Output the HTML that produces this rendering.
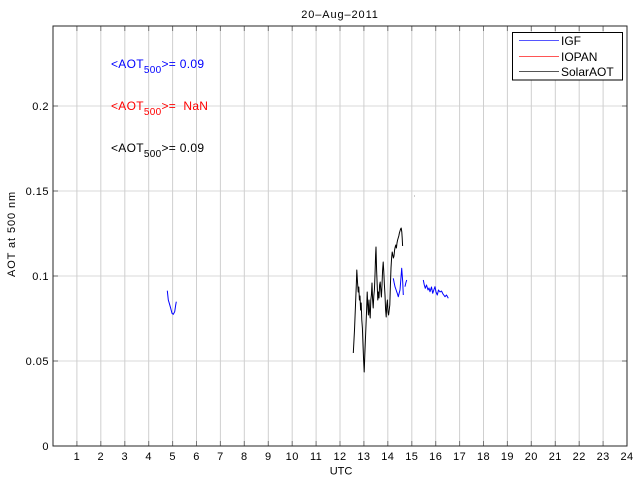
<!DOCTYPE html>
<html><head><meta charset="utf-8"><style>
html,body{margin:0;padding:0;background:#fff;}
svg{display:block;}
text{font-family:"Liberation Sans",Arial,sans-serif;}
</style></head><body>
<svg width="640" height="480" viewBox="0 0 640 480" xmlns="http://www.w3.org/2000/svg">
<rect x="0" y="0" width="640" height="480" fill="#fff"/>
<rect x="53" y="26" width="574" height="420" fill="#fff"/>
<!-- horizontal grid -->
<g stroke="#e6e6e6" stroke-width="1.5">
<line x1="53" y1="361" x2="627" y2="361"/>
<line x1="53" y1="276" x2="627" y2="276"/>
<line x1="53" y1="191" x2="627" y2="191"/>
<line x1="53" y1="106" x2="627" y2="106"/>
</g>
<!-- vertical grid -->
<g stroke="#cfcfcf" stroke-width="1">
<line x1="76.9" y1="26" x2="76.9" y2="446"/>
<line x1="100.8" y1="26" x2="100.8" y2="446"/>
<line x1="124.8" y1="26" x2="124.8" y2="446"/>
<line x1="148.7" y1="26" x2="148.7" y2="446"/>
<line x1="172.6" y1="26" x2="172.6" y2="446"/>
<line x1="196.5" y1="26" x2="196.5" y2="446"/>
<line x1="220.4" y1="26" x2="220.4" y2="446"/>
<line x1="244.3" y1="26" x2="244.3" y2="446"/>
<line x1="268.3" y1="26" x2="268.3" y2="446"/>
<line x1="292.2" y1="26" x2="292.2" y2="446"/>
<line x1="316.1" y1="26" x2="316.1" y2="446"/>
<line x1="340" y1="26" x2="340" y2="446"/>
<line x1="363.9" y1="26" x2="363.9" y2="446"/>
<line x1="387.8" y1="26" x2="387.8" y2="446"/>
<line x1="411.8" y1="26" x2="411.8" y2="446"/>
<line x1="435.7" y1="26" x2="435.7" y2="446"/>
<line x1="459.6" y1="26" x2="459.6" y2="446"/>
<line x1="483.5" y1="26" x2="483.5" y2="446"/>
<line x1="507.4" y1="26" x2="507.4" y2="446"/>
<line x1="531.3" y1="26" x2="531.3" y2="446"/>
<line x1="555.3" y1="26" x2="555.3" y2="446"/>
<line x1="579.2" y1="26" x2="579.2" y2="446"/>
<line x1="603.1" y1="26" x2="603.1" y2="446"/>
</g>
<!-- ticks -->
<g stroke="#777" stroke-width="1">
<path d="M76.9 446v-5M100.8 446v-5M124.8 446v-5M148.7 446v-5M172.6 446v-5M196.5 446v-5M220.4 446v-5M244.3 446v-5M268.3 446v-5M292.2 446v-5M316.1 446v-5M340 446v-5M363.9 446v-5M387.8 446v-5M411.8 446v-5M435.7 446v-5M459.6 446v-5M483.5 446v-5M507.4 446v-5M531.3 446v-5M555.3 446v-5M579.2 446v-5M603.1 446v-5"/>
<path d="M76.9 26v5M100.8 26v5M124.8 26v5M148.7 26v5M172.6 26v5M196.5 26v5M220.4 26v5M244.3 26v5M268.3 26v5M292.2 26v5M316.1 26v5M340 26v5M363.9 26v5M387.8 26v5M411.8 26v5M435.7 26v5M459.6 26v5M483.5 26v5M507.4 26v5M531.3 26v5M555.3 26v5M579.2 26v5M603.1 26v5"/>
<path d="M53 361h5M53 276h5M53 191h5M53 106h5M627 361h-5M627 276h-5M627 191h-5M627 106h-5"/>
</g>
<!-- axes box -->
<rect x="53" y="26" width="574" height="420" fill="none" stroke="#262626" stroke-width="1"/>

<!-- data: SolarAOT black -->
<polyline fill="none" stroke="#000" stroke-width="1" stroke-linejoin="round" points="353.3,353 354.5,330 355.5,305 356.3,285 356.8,270 357.5,282 358.2,292 358.8,287 359.4,300 360,296 360.6,310 361.2,303 361.8,320 362.4,328 363,345 363.6,360 364.2,372 364.8,355 365.4,340 366,325 366.6,310 367.2,292 367.8,305 368.4,315 369,300 369.6,312 370.2,318 370.8,300 371.4,295 372,283 372.6,300 373.2,308 373.8,296 374.4,290 375,275 375.6,255 376,247 376.6,270 377.2,285 377.8,300 378.4,292 379,298 379.6,285 380.2,282 380.8,290 381.4,297 382,285 382.6,270 383.2,262 383.8,272 384.4,285 385,295 385.6,310 386.2,317 386.8,305 387.4,300 388,312 388.6,315 389.2,310 389.8,305 390.4,285 391,268 391.6,258 392.2,252 392.8,255 393.4,258 394,256 394.6,250 395.2,247 395.8,245 396.4,248 397,243 397.6,240 398.2,238 398.8,236 399.4,233 400,231 400.6,229 401.2,228 401.8,232 402.2,238 402.6,246"/>
<rect x="414" y="195.5" width="1" height="1" fill="#999"/>

<!-- data: IGF blue -->
<g fill="none" stroke="#0000ff" stroke-width="1" stroke-linejoin="round">
<polyline points="167.3,290.7 168.3,300 169.3,303.3 170.7,308.3 172,313.3 173.3,314.3 174.7,311.7 175.7,305 176.3,301.7"/>
<polyline points="393.3,278.3 394.2,283 395,286.7 395.8,289 396.7,291.7 397.5,294 398.3,296.7 399.2,293 400,290 400.8,280 401.7,268.3 402.2,275 402.7,281.7 403.3,295"/>
<polyline points="405,286.7 405.8,283 406.7,280"/>
<polyline points="423.3,280 424.3,285 425.3,288.3 426.5,285 428,290 429,288 430,291.7 431.5,287 432.7,293.3 433.8,290 435,286.7 436,292 437.3,295 438.5,290 440,292 441.5,291 443,294 445,296.7 446.5,295 448.3,298.3"/>
</g>

<!-- tick labels -->
<g font-size="11" fill="#000" text-anchor="middle" letter-spacing="0.4">
<text x="76.9" y="460">1</text>
<text x="100.8" y="460">2</text>
<text x="124.8" y="460">3</text>
<text x="148.7" y="460">4</text>
<text x="172.6" y="460">5</text>
<text x="196.5" y="460">6</text>
<text x="220.4" y="460">7</text>
<text x="244.3" y="460">8</text>
<text x="268.3" y="460">9</text>
<text x="292.2" y="460">10</text>
<text x="316.1" y="460">11</text>
<text x="340" y="460">12</text>
<text x="363.9" y="460">13</text>
<text x="387.8" y="460">14</text>
<text x="411.8" y="460">15</text>
<text x="435.7" y="460">16</text>
<text x="459.6" y="460">17</text>
<text x="483.5" y="460">18</text>
<text x="507.4" y="460">19</text>
<text x="531.3" y="460">20</text>
<text x="555.3" y="460">21</text>
<text x="579.2" y="460">22</text>
<text x="603.1" y="460">23</text>
<text x="627" y="460">24</text>
</g>
<g font-size="11" fill="#000" text-anchor="end" letter-spacing="0.5">
<text x="49" y="450">0</text>
<text x="49" y="365">0.05</text>
<text x="49" y="280">0.1</text>
<text x="49" y="195">0.15</text>
<text x="49" y="110">0.2</text>
</g>

<!-- title & axis labels -->
<text x="340" y="18" font-size="11" text-anchor="middle" letter-spacing="0.9">20–Aug–2011</text>
<text x="341" y="474.5" font-size="11" text-anchor="middle">UTC</text>
<text transform="translate(15,234) rotate(-90)" font-size="11" text-anchor="middle" letter-spacing="0.9">AOT at 500 nm</text>

<!-- annotations -->
<text x="111" y="68" font-size="12" fill="#0000ff" letter-spacing="0.3">&lt;AOT<tspan font-size="10" dy="5">500</tspan><tspan dy="-5">&gt;= 0.09</tspan></text>
<text x="111" y="110" font-size="12" fill="#ff0000" letter-spacing="0.3">&lt;AOT<tspan font-size="10" dy="5">500</tspan><tspan dy="-5">&gt;=&#160; NaN</tspan></text>
<text x="111" y="152" font-size="12" fill="#000" letter-spacing="0.3">&lt;AOT<tspan font-size="10" dy="5">500</tspan><tspan dy="-5">&gt;= 0.09</tspan></text>

<!-- legend -->
<rect x="512.5" y="32.5" width="110" height="47.5" fill="#fff" stroke="#000" stroke-width="1"/>
<line x1="519" y1="40.5" x2="559" y2="40.5" stroke="#5555ff" stroke-width="1"/>
<line x1="519" y1="56.5" x2="559" y2="56.5" stroke="#ff5555" stroke-width="1"/>
<line x1="519" y1="71.5" x2="559" y2="71.5" stroke="#555" stroke-width="1"/>
<g font-size="12" fill="#000">
<text x="561" y="45">IGF</text>
<text x="561" y="61">IOPAN</text>
<text x="561" y="76">SolarAOT</text>
</g>
</svg>
</body></html>
